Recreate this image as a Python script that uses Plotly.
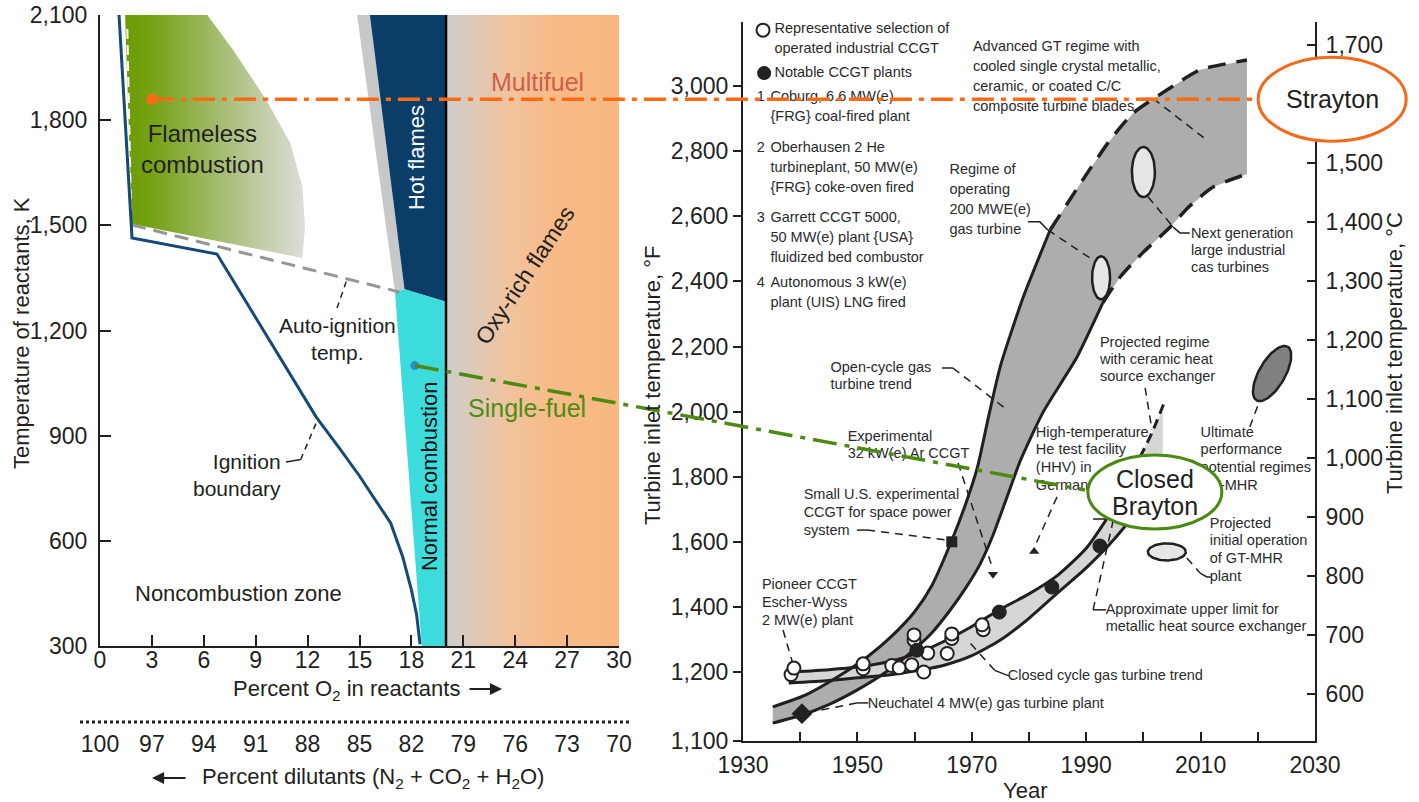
import numpy as np
import plotly.graph_objects as go

W, H = 1419, 802
FONT = "Liberation Sans, Arial, Helvetica, sans-serif"
INK = "#231f20"
ORANGE = "#ff6a13"
GREEN = "#4d8a12"

# ------------------------------------------------------------------
# Left panel: combustion regimes vs. percent O2 in the reactants
# ------------------------------------------------------------------
o2_ticks = [0, 3, 6, 9, 12, 15, 18, 21, 24, 27, 30]
dilutant_labels = ["100", "97", "94", "91", "88", "85", "82", "79", "76", "73", "70"]
kelvin_ticks = [300, 600, 900, 1200, 1500, 1800, 2100]

ignition_o2 = [1.1, 1.85, 6.76, 12.5, 13.9, 15.0, 15.8, 16.8, 17.5, 18.0, 18.3, 18.5]
ignition_k = [2100, 1464, 1418, 953, 860, 785, 725, 651, 554, 460, 390, 305]

autoignition_o2 = [1.85, 17.3]
autoignition_k = [1501, 1310]
autoignition_upper_o2 = [1.58, 1.8]
autoignition_upper_k = [2060, 1520]

flameless_o2 = [1.45, 6.2, 7.7, 9.6, 11.0, 11.7, 11.85, 11.7, 1.85]
flameless_k = [2100, 2100, 2000, 1858, 1735, 1610, 1495, 1407, 1504]

fringe_o2 = [14.86, 15.6, 17.6, 17.05]
fringe_k = [2100, 2100, 1318, 1310]
hot_o2 = [15.6, 20.0, 20.0, 17.6]
hot_k = [2100, 2100, 1282, 1318]
normal_o2 = [17.05, 17.6, 20.0, 20.0, 18.6]
normal_k = [1310, 1318, 1282, 300, 300]
oxy_o2 = [20.0, 30.0, 30.0, 20.0]
oxy_k = [300, 300, 2100, 2100]
air_o2 = 20.0

multifuel_o2, multifuel_k = 3.0, 1860
singlefuel_o2, singlefuel_k = 18.2, 1100

# ------------------------------------------------------------------
# Right panel: turbine inlet temperature history
# ------------------------------------------------------------------
year_ticks = list(range(1930, 2031, 10))
year_labels = [str(y) if (y - 1930) % 20 == 0 else "" for y in year_ticks]
fahrenheit_ticks = [988, 1200, 1400, 1600, 1800, 2000, 2200, 2400, 2600, 2800, 3000]
fahrenheit_labels = ["1,100", "1,200", "1,400", "1,600", "1,800", "2,000",
                     "2,200", "2,400", "2,600", "2,800", "3,000"]
celsius_ticks = [600, 700, 800, 900, 1000, 1100, 1200, 1300, 1400, 1500, 1600, 1700]

# open-cycle gas turbine trend band
open_up_year = [1935.2, 1941, 1947, 1952, 1956, 1960, 1963, 1966.4, 1969, 1971, 1973, 1975, 1979, 1983.7]
open_up_f = [1093, 1130, 1190, 1250, 1310, 1385, 1465, 1600, 1720, 1830, 1990, 2140, 2352, 2558]
open_up_proj_year = [1983.7, 1989.4, 1994, 1998.2, 2004.1, 2009.9, 2018.1]
open_up_proj_f = [2558, 2712, 2830, 2917, 2988, 3050, 3080]
open_lo_year = [1935.2, 1940.3, 1945, 1950, 1955, 1959, 1963, 1966, 1969, 1971.4, 1973.7,
                1976, 1978.5, 1982.4, 1985.5, 1988.4, 1992.9]
open_lo_f = [1043, 1068, 1100, 1145, 1200, 1255, 1320, 1385, 1460, 1530, 1620,
             1730, 1850, 1996, 2085, 2168, 2334]
open_lo_proj_year = [1992.9, 1996, 2000, 2004.7, 2008, 2012.2, 2018.1]
open_lo_proj_f = [2334, 2415, 2490, 2567, 2630, 2690, 2730]

# closed-cycle gas turbine trend band
closed_up_year = [1938.5, 1945, 1950, 1955, 1960, 1965, 1970, 1975, 1980, 1985, 1990, 1995, 1999.4]
closed_up_f = [1200, 1207, 1215, 1230, 1255, 1293, 1340, 1393, 1440, 1497, 1580, 1710, 1860]
closed_up_proj_year = [1999.4, 2001.5, 2003.8]
closed_up_proj_f = [1860, 1935, 2035]
closed_lo_year = [1938.0, 1945, 1950, 1955, 1960, 1965, 1970, 1975, 1980, 1985, 1990, 1995, 2000, 2003.4]
closed_lo_f = [1166, 1174, 1182, 1190, 1203, 1220, 1250, 1298, 1365, 1443, 1520, 1610, 1720, 1810]

# representative operated industrial CCGT (open circles)
ccgt_year = [1938.4, 1938.9, 1951.0, 1951.0, 1956.0, 1957.3, 1959.5, 1959.9, 1959.9,
             1961.6, 1962.3, 1965.7, 1966.5, 1966.5, 1972.0, 1971.8]
ccgt_f = [1192, 1212, 1210, 1225, 1220, 1213, 1222, 1298, 1314,
          1200, 1258, 1257, 1303, 1317, 1330, 1345]

# notable CCGT plants (filled circles)
notable_year = [1960.4, 1974.8, 1984.0, 1992.4]
notable_f = [1267, 1384, 1461, 1587]

space_power_year, space_power_f = 1966.5, 1600
neuchatel_year, neuchatel_f = 1940.3, 1072
ar_ccgt_year, ar_ccgt_f = 1973.7, 1500
hhv_year, hhv_f = 1980.9, 1570

regime_ellipse = (1992.6, 2411)
next_gen_ellipse = (2000.0, 2736)
gt_mhr_ellipse = (2004.1, 1569)
ultimate_ellipse = (2022.5, 2117)

brayton_year, brayton_f = 2002.0, 1753
strayton_year = 2033.0

# ------------------------------------------------------------------
# Geometry of the two panels (paper fractions)
# ------------------------------------------------------------------
LX = (100 / W, 619 / W)
LY = (1 - 646 / H, 1 - 15 / H)
RX = (743 / W, 1315 / W)
RY = (1 - 741 / H, 1 - 22 / H)
O2_RANGE = (0, 30)
K_RANGE = (300, 2100)
YEAR_RANGE = (1930, 2030)
F_RANGE = (988, 3197)
C_RANGE = (520, 1739)

YEARS_PER_PX = (YEAR_RANGE[1] - YEAR_RANGE[0]) / ((RX[1] - RX[0]) * W)
F_PER_PX = (F_RANGE[1] - F_RANGE[0]) / ((RY[1] - RY[0]) * H)


def left_paper(x, k):
    return (LX[0] + (x - O2_RANGE[0]) / (O2_RANGE[1] - O2_RANGE[0]) * (LX[1] - LX[0]),
            LY[0] + (k - K_RANGE[0]) / (K_RANGE[1] - K_RANGE[0]) * (LY[1] - LY[0]))


def right_paper(yr, f):
    return (RX[0] + (yr - YEAR_RANGE[0]) / (YEAR_RANGE[1] - YEAR_RANGE[0]) * (RX[1] - RX[0]),
            RY[0] + (f - F_RANGE[0]) / (F_RANGE[1] - F_RANGE[0]) * (RY[1] - RY[0]))


def pix(px, py):
    return px / W, 1 - py / H


def ellipse_pts(cx, cy, a_px, b_px, tilt_deg=0.0, n=80):
    t = np.linspace(0, 2 * np.pi, n)
    th = np.radians(tilt_deg)
    ux, uy = a_px * np.cos(t), b_px * np.sin(t)
    dx = ux * np.cos(th) - uy * np.sin(th)
    dy = ux * np.sin(th) + uy * np.cos(th)
    return cx + dx * YEARS_PER_PX, cy + dy * F_PER_PX


fig = go.Figure()
LA = dict(xaxis="x", yaxis="y")
RA = dict(xaxis="x2", yaxis="y2")
NOHOVER = dict(hoverinfo="skip", showlegend=False)


def closed(xs, ys):
    return list(xs) + [xs[0]], list(ys) + [ys[0]]


# ---- left panel regions ----
x, y = closed(oxy_o2, oxy_k)
fig.add_trace(go.Scatter(x=x, y=y, fill="toself", mode="lines", line=dict(width=0),
                         fillgradient=dict(type="horizontal", start=20, stop=30,
                                           colorscale=[[0, "rgb(205,205,205)"], [0.35, "rgb(240,196,160)"],
                                                       [0.6, "rgb(248,187,136)"], [1, "rgb(249,184,128)"]]),
                         **LA, **NOHOVER))
x, y = closed(flameless_o2, flameless_k)
fig.add_trace(go.Scatter(x=x, y=y, fill="toself", mode="lines", line=dict(width=0),
                         fillgradient=dict(type="horizontal", start=1.5, stop=11.9,
                                           colorscale=[[0, "rgb(108,156,4)"], [0.15, "rgb(118,162,22)"],
                                                       [0.55, "rgb(168,190,120)"], [1, "rgb(222,222,220)"]]),
                         **LA, **NOHOVER))
for xs, ks, col in [(fringe_o2, fringe_k, "#c8c8c8"), (hot_o2, hot_k, "#0b3d69"),
                    (normal_o2, normal_k, "#3ddcdc")]:
    x, y = closed(xs, ks)
    fig.add_trace(go.Scatter(x=x, y=y, fill="toself", fillcolor=col, mode="lines",
                             line=dict(width=0), **LA, **NOHOVER))

fig.add_trace(go.Scatter(x=[air_o2, air_o2], y=list(K_RANGE), mode="lines",
                         line=dict(color="black", width=2.5), **LA, **NOHOVER))
fig.add_trace(go.Scatter(x=autoignition_o2, y=autoignition_k, mode="lines",
                         line=dict(color="#969696", width=3, dash="14px,8px"), **LA, **NOHOVER))
fig.add_trace(go.Scatter(x=autoignition_upper_o2, y=autoignition_upper_k, mode="lines",
                         line=dict(color="white", width=2, dash="10px,6px"), **LA, **NOHOVER))
fig.add_trace(go.Scatter(x=ignition_o2, y=ignition_k, mode="lines",
                         line=dict(color="#154a78", width=3), **LA, **NOHOVER))

# left leaders
fig.add_trace(go.Scatter(x=[13.7, 14.28], y=[1264, 1346], mode="lines",
                         line=dict(color=INK, width=1.5, dash="6px,5px"), **LA, **NOHOVER))
fig.add_trace(go.Scatter(x=[10.75, 11.6], y=[825, 832], mode="lines",
                         line=dict(color=INK, width=1.5), **LA, **NOHOVER))
fig.add_trace(go.Scatter(x=[11.6, 12.6], y=[832, 948], mode="lines",
                         line=dict(color=INK, width=1.5, dash="6px,5px"), **LA, **NOHOVER))

fig.add_trace(go.Scatter(x=[multifuel_o2], y=[multifuel_k], mode="markers",
                         marker=dict(color=ORANGE, size=11), **LA, **NOHOVER))
fig.add_trace(go.Scatter(x=[singlefuel_o2], y=[singlefuel_k], mode="markers",
                         marker=dict(color="#2b8fd1", size=9), **LA, **NOHOVER))

# dilutant scale axis carrier
fig.add_trace(go.Scatter(x=[0], y=[300], xaxis="x3", yaxis="y", mode="markers",
                         marker=dict(opacity=0), **NOHOVER))

# ---- right panel bands ----
open_top = open_up_year + open_up_proj_year[1:]
open_top_f = open_up_f + open_up_proj_f[1:]
open_bot = open_lo_year + open_lo_proj_year[1:]
open_bot_f = open_lo_f + open_lo_proj_f[1:]
fig.add_trace(go.Scatter(x=open_top + open_bot[::-1] + [open_top[0]],
                         y=open_top_f + open_bot_f[::-1] + [open_top_f[0]],
                         fill="toself", fillcolor="#adadad", mode="lines", line=dict(width=0),
                         **RA, **NOHOVER))

closed_top = closed_up_year + closed_up_proj_year[1:-1] + [closed_lo_year[-1]]
closed_top_f = closed_up_f + closed_up_proj_f[1:-1] + [2010]
fig.add_trace(go.Scatter(x=closed_top + closed_lo_year[::-1] + [closed_top[0]],
                         y=closed_top_f + closed_lo_f[::-1] + [closed_top_f[0]],
                         fill="toself", fillcolor="#d6d6d6", mode="lines", line=dict(width=0),
                         **RA, **NOHOVER))

SOLID = dict(color=INK, width=3)
DASHED = dict(color=INK, width=3.5, dash="18px,11px")
for xs, ys, ln in [(open_up_year, open_up_f, SOLID), (open_up_proj_year, open_up_proj_f, DASHED),
                   (open_lo_year, open_lo_f, SOLID), (open_lo_proj_year, open_lo_proj_f, DASHED),
                   (closed_up_year, closed_up_f, SOLID),
                   (closed_up_proj_year, closed_up_proj_f, dict(color=INK, width=3, dash="10px,6px")),
                   (closed_lo_year, closed_lo_f, SOLID)]:
    fig.add_trace(go.Scatter(x=xs, y=ys, mode="lines", line=dict(shape="spline", smoothing=0.6, **ln),
                             **RA, **NOHOVER))

# ellipses for projected regimes
for (cx, cy), a, b, tilt, col in [(regime_ellipse, 9, 21.5, 0, "#e6e6e6"),
                                  (next_gen_ellipse, 11.5, 25, 0, "#e6e6e6"),
                                  (gt_mhr_ellipse, 19, 8.5, 0, "#e6e6e6"),
                                  (ultimate_ellipse, 31, 13, 60, "#808080")]:
    ex, ey = ellipse_pts(cx, cy, a, b, tilt)
    fig.add_trace(go.Scatter(x=ex, y=ey, fill="toself", fillcolor=col, mode="lines",
                             line=dict(color=INK, width=2.5), **RA, **NOHOVER))

# leader lines on the right panel: (solid hook, dashed run)
DASH_LEADER = dict(color=INK, width=1.5, dash="8px,6px")
HOOK = dict(color=INK, width=1.5)
leaders = [
    ([(1979.8, 2583), (1981.9, 2583), (1983.3, 2558)], [(1983.3, 2558), (1991.5, 2462)]),
    ([(2000.3, 2962), (2001.7, 2962)], [(2001.7, 2962), (2011.1, 2834)]),
    ([(2005.2, 2567), (2006.4, 2549), (2008.1, 2549)], [(2000.8, 2660), (2005.2, 2567)]),
    ([(1964.8, 2134), (1966.7, 2134)], [(1966.7, 2134), (1976.2, 2005)]),
    ([], [(1967.6, 1842), (1973.7, 1515)]),
    ([(1949.9, 1636), (1951.7, 1636)], [(1951.7, 1636), (1965.3, 1606)]),
    ([], [(1937.0, 1329), (1938.6, 1232)]),
    ([(1951.9, 1105), (1949.9, 1105)], [(1949.9, 1105), (1941.6, 1076)]),
    ([(1976.5, 1188), (1974.0, 1205)], [(1974.0, 1205), (1969.7, 1289)]),
    ([], [(1984.9, 1738), (1981.0, 1585)]),
    ([], [(2000.3, 2073), (2001.5, 1944)]),
    ([], [(2018.6, 1953), (2020.4, 2036)]),
    ([(2009.9, 1504), (2011.1, 1492), (2011.8, 1492)], [(2007.6, 1550), (2009.9, 1504)]),
    ([(1993.5, 1391), (1991.2, 1391)], [(1991.2, 1391), (1994.7, 1664)]),
    ([(1991.2, 1670), (1994.7, 1670)], []),
]
for hook, run in leaders:
    if hook:
        fig.add_trace(go.Scatter(x=[p[0] for p in hook], y=[p[1] for p in hook], mode="lines",
                                 line=HOOK, **RA, **NOHOVER))
    if run:
        fig.add_trace(go.Scatter(x=[p[0] for p in run], y=[p[1] for p in run], mode="lines",
                                 line=DASH_LEADER, **RA, **NOHOVER))

# data points
fig.add_trace(go.Scatter(x=ccgt_year, y=ccgt_f, mode="markers",
                         marker=dict(symbol="circle", size=13, color="white", line=dict(color=INK, width=2)),
                         **RA, **NOHOVER))
fig.add_trace(go.Scatter(x=notable_year, y=notable_f, mode="markers",
                         marker=dict(symbol="circle", size=14, color="#222222", line=dict(color=INK, width=1)),
                         **RA, **NOHOVER))
fig.add_trace(go.Scatter(x=[space_power_year], y=[space_power_f], mode="markers",
                         marker=dict(symbol="square", size=11, color="#222222"), **RA, **NOHOVER))
fig.add_trace(go.Scatter(x=[neuchatel_year], y=[neuchatel_f], mode="markers",
                         marker=dict(symbol="diamond", size=16, color="#222222"), **RA, **NOHOVER))
fig.add_trace(go.Scatter(x=[ar_ccgt_year], y=[ar_ccgt_f], mode="markers",
                         marker=dict(symbol="triangle-down", size=9, color="#222222"), **RA, **NOHOVER))
fig.add_trace(go.Scatter(x=[hhv_year], y=[hhv_f], mode="markers",
                         marker=dict(symbol="triangle-up", size=9, color="#222222"), **RA, **NOHOVER))

# key markers
fig.add_trace(go.Scatter(x=[1933.5], y=[3172], mode="markers",
                         marker=dict(symbol="circle", size=13, color="white", line=dict(color=INK, width=2)),
                         cliponaxis=False, **RA, **NOHOVER))
fig.add_trace(go.Scatter(x=[1933.7], y=[3040], mode="markers",
                         marker=dict(symbol="circle", size=14, color="#222222"),
                         cliponaxis=False, **RA, **NOHOVER))

# text blocks on the right panel (drawn as trace text so callouts can sit on top)
SMALL = dict(family=FONT, size=14.5, color="#2b2b2b")


def text_block(lines, yr, f_top, step_px=18.0, font=SMALL, pos="middle right"):
    fs = [f_top - i * step_px * F_PER_PX for i in range(len(lines))]
    fig.add_trace(go.Scatter(x=[yr] * len(lines), y=fs, text=lines, mode="text", textposition=pos,
                             textfont=font, cliponaxis=False, **RA, **NOHOVER))


text_block(["Representative selection of", "operated industrial CCGT"], 1935.5, 3175, 20)
text_block(["Notable CCGT plants"], 1935.5, 3040)
text_block(["1"], 1933.1, 2964, pos="middle center")
text_block(["Coburg, 6.6 MW(e)", "{FRG} coal-fired plant"], 1934.8, 2964, 20)
text_block(["2"], 1933.1, 2810, pos="middle center")
text_block(["Oberhausen 2 He", "turbineplant, 50 MW(e)", "{FRG} coke-oven fired"], 1934.8, 2810, 20)
text_block(["3"], 1933.1, 2595, pos="middle center")
text_block(["Garrett CCGT 5000,", "50 MW(e) plant {USA}", "fluidized bed combustor"], 1934.8, 2595, 20)
text_block(["4"], 1933.1, 2395, pos="middle center")
text_block(["Autonomous 3 kW(e)", "plant (UIS) LNG fired"], 1934.8, 2395, 20)
text_block(["Advanced GT regime with", "cooled single crystal metallic,", "ceramic, or coated C/C",
            "composite turbine blades"], 1970.2, 3120, 20)
text_block(["Regime of", "operating", "200 MWE(e)", "gas turbine"], 1966.1, 2742, 20)
text_block(["Next generation", "large industrial", "cas turbines"], 2008.3, 2546, 17)
text_block(["Open-cycle gas", "turbine trend"], 1945.3, 2134, 17)
text_block(["Experimental", "32 kW(e) Ar CCGT"], 1948.3, 1922, 17)
text_block(["Small U.S. experimental", "CCGT for space power", "system"], 1940.6, 1744, 18)
text_block(["Pioneer CCGT", "Escher-Wyss", "2 MW(e) plant"], 1933.3, 1467, 18)
text_block(["Neuchatel 4 MW(e) gas turbine plant"], 1951.8, 1102)
text_block(["Closed cycle gas turbine trend"], 1976.3, 1188)
text_block(["High-temperature", "He test facility", "(HHV) in", "Germany"], 1981.2, 1934, 17.7)
text_block(["Projected regime", "with ceramic heat", "source exchanger"], 1992.4, 2211, 17)
text_block(["Ultimate", "performance", "potential regimes", "GT-MHR"], 2010.0, 1934, 17.7)
text_block(["Projected", "initial operation", "of GT-MHR", "plant"], 2011.6, 1655, 17.7)
text_block(["Approximate upper limit for", "metallic heat source exchanger"], 1993.4, 1388, 17)

# carrier for the Celsius axis
fig.add_trace(go.Scatter(x=[1930], y=[600], xaxis="x2", yaxis="y3", mode="markers",
                         marker=dict(opacity=0), **NOHOVER))

# ------------------------------------------------------------------
# Connectors and callouts spanning both panels
# ------------------------------------------------------------------
mx, my = left_paper(multifuel_o2, multifuel_k)
sx, _ = right_paper(strayton_year, 2000)
s_rx, s_ry = 74 / W, 42 / H
sfx, sfy = left_paper(singlefuel_o2, singlefuel_k)
bx, by = right_paper(brayton_year, brayton_f)
b_rx, b_ry = 67 / W, 37 / H

shapes = [
    dict(type="line", xref="paper", yref="paper", x0=mx, y0=my, x1=sx - s_rx, y1=my,
         line=dict(color=ORANGE, width=3.5, dash="22px,7px,5px,7px"), layer="above"),
    dict(type="line", xref="paper", yref="paper", x0=sfx, y0=sfy, x1=bx - b_rx - 3 / W, y1=by + 2 / H,
         line=dict(color=GREEN, width=3.5, dash="24px,8px,5px,8px"), layer="above"),
    dict(type="circle", xref="paper", yref="paper", x0=sx - s_rx, x1=sx + s_rx, y0=my - s_ry, y1=my + s_ry,
         fillcolor="white", line=dict(color="#f26b1d", width=3), layer="above"),
    dict(type="circle", xref="paper", yref="paper", x0=bx - b_rx, x1=bx + b_rx, y0=by - b_ry, y1=by + b_ry,
         fillcolor="white", line=dict(color="#4a8a10", width=3), layer="above"),
    dict(type="line", xref="paper", yref="paper", x0=80 / W, x1=632 / W, y0=1 - 722 / H, y1=1 - 722 / H,
         line=dict(color=INK, width=3, dash="dot"), layer="above"),
]

BIG = dict(family=FONT, size=22, color=INK)
annotations = []


def ann(text, x, y, xref="x", yref="y", font=BIG, angle=0, xanchor="center", **kw):
    annotations.append(dict(text=text, x=x, y=y, xref=xref, yref=yref, showarrow=False,
                            font=font, textangle=angle, xanchor=xanchor, yanchor="middle", **kw))


# left panel labels
ann("Flameless<br>combustion", 5.95, 1718, font=dict(family=FONT, size=24, color=INK))
ann("Hot flames", 18.27, 1692, font=dict(family=FONT, size=22, color="white"), angle=-90)
ann("Normal combustion", 19.08, 785, font=dict(family=FONT, size=22, color="#111111"), angle=-90)
ann("Oxy-rich flames", 24.57, 1358, font=dict(family=FONT, size=23, color=INK), angle=-56.5)
ann("Multifuel", 25.3, 1909, font=dict(family=FONT, size=25, color="#cd5f4b"))
ann("Single-fuel", 24.7, 979, font=dict(family=FONT, size=25, color="#4f8c14"))
ann("Auto-ignition<br>temp.", 13.75, 1175, font=dict(family=FONT, size=21, color=INK))
ann("Ignition<br>boundary", 10.6, 787, font=dict(family=FONT, size=21, color=INK),
    xanchor="right", align="right")
ann("Noncombustion zone", 7.98, 449)

# axis titles and scale captions
px_, py_ = pix(22, 333)
ann("Temperature of reactants, K", px_, py_, "paper", "paper", angle=-90)
px_, py_ = pix(346, 690)
ann("Percent O<sub>2</sub> in reactants", px_, py_, "paper", "paper")
px_, py_ = pix(373, 778)
ann("Percent dilutants (N<sub>2</sub> + CO<sub>2</sub> + H<sub>2</sub>O)", px_, py_, "paper", "paper")
px_, py_ = pix(652, 386)
ann("Turbine inlet temperature, °F", px_, py_, "paper", "paper", angle=-90)
px_, py_ = pix(1395, 353)
ann("Turbine inlet temperature, °C", px_, py_, "paper", "paper", angle=-90)
px_, py_ = pix(1025, 790)
ann("Year", px_, py_, "paper", "paper")

# arrows beside the x captions
for head, tail_dx in [((502, 689), -34), ((152, 778), 35)]:
    hx, hy = pix(*head)
    annotations.append(dict(text="", x=hx, y=hy, xref="paper", yref="paper", showarrow=True,
                            ax=tail_dx, ay=0, arrowhead=2, arrowsize=1.1, arrowwidth=2.2,
                            arrowcolor=INK))

# callout texts
CALLOUT = dict(family=FONT, size=25, color=INK)
ann("Strayton", sx, my, "paper", "paper", font=CALLOUT)
ann("Closed", bx, by + 13 / H, "paper", "paper", font=CALLOUT)
ann("Brayton", bx, by - 14 / H, "paper", "paper", font=CALLOUT)

axis_common = dict(showgrid=False, zeroline=False, showline=True, linecolor=INK, linewidth=2,
                   tickcolor=INK, tickwidth=2, fixedrange=True, automargin=False,
                   tickfont=dict(family=FONT, size=23, color=INK))

fig.update_layout(
    template="none",
    width=W, height=H, margin=dict(l=0, r=0, t=0, b=0, pad=0), autosize=False,
    paper_bgcolor="white", plot_bgcolor="white", showlegend=False,
    font=dict(family=FONT, color=INK),
    xaxis=dict(domain=list(LX), range=list(O2_RANGE), anchor="y", tickvals=o2_ticks,
               ticks="inside", ticklen=11, ticklabelstandoff=-8, **axis_common),
    yaxis=dict(domain=list(LY), range=list(K_RANGE), anchor="x", tickvals=kelvin_ticks,
               tickformat=",", ticks="inside", ticklen=11, ticklabelstandoff=6, **axis_common),
    xaxis3=dict(overlaying="x", anchor="free", position=1 - 728 / H, side="bottom",
                range=list(O2_RANGE), tickvals=o2_ticks, ticktext=dilutant_labels,
                showline=False, ticks="", showgrid=False, zeroline=False, fixedrange=True,
                automargin=False, tickfont=dict(family=FONT, size=23, color=INK)),
    xaxis2=dict(domain=list(RX), range=list(YEAR_RANGE), anchor="y2", tickvals=year_ticks,
                ticktext=year_labels, ticks="inside", ticklen=9, ticklabelstandoff=2, **axis_common),
    yaxis2=dict(domain=list(RY), range=list(F_RANGE), anchor="x2", tickvals=fahrenheit_ticks,
                ticktext=fahrenheit_labels, ticks="outside", ticklen=8, **axis_common),
    yaxis3=dict(overlaying="y2", anchor="x2", side="right", range=list(C_RANGE),
                tickvals=celsius_ticks, tickformat=",", ticks="inside", ticklen=8,
                ticklabelstandoff=4, **axis_common),
    shapes=shapes,
    annotations=annotations,
)

fig.write_html("out.html")
